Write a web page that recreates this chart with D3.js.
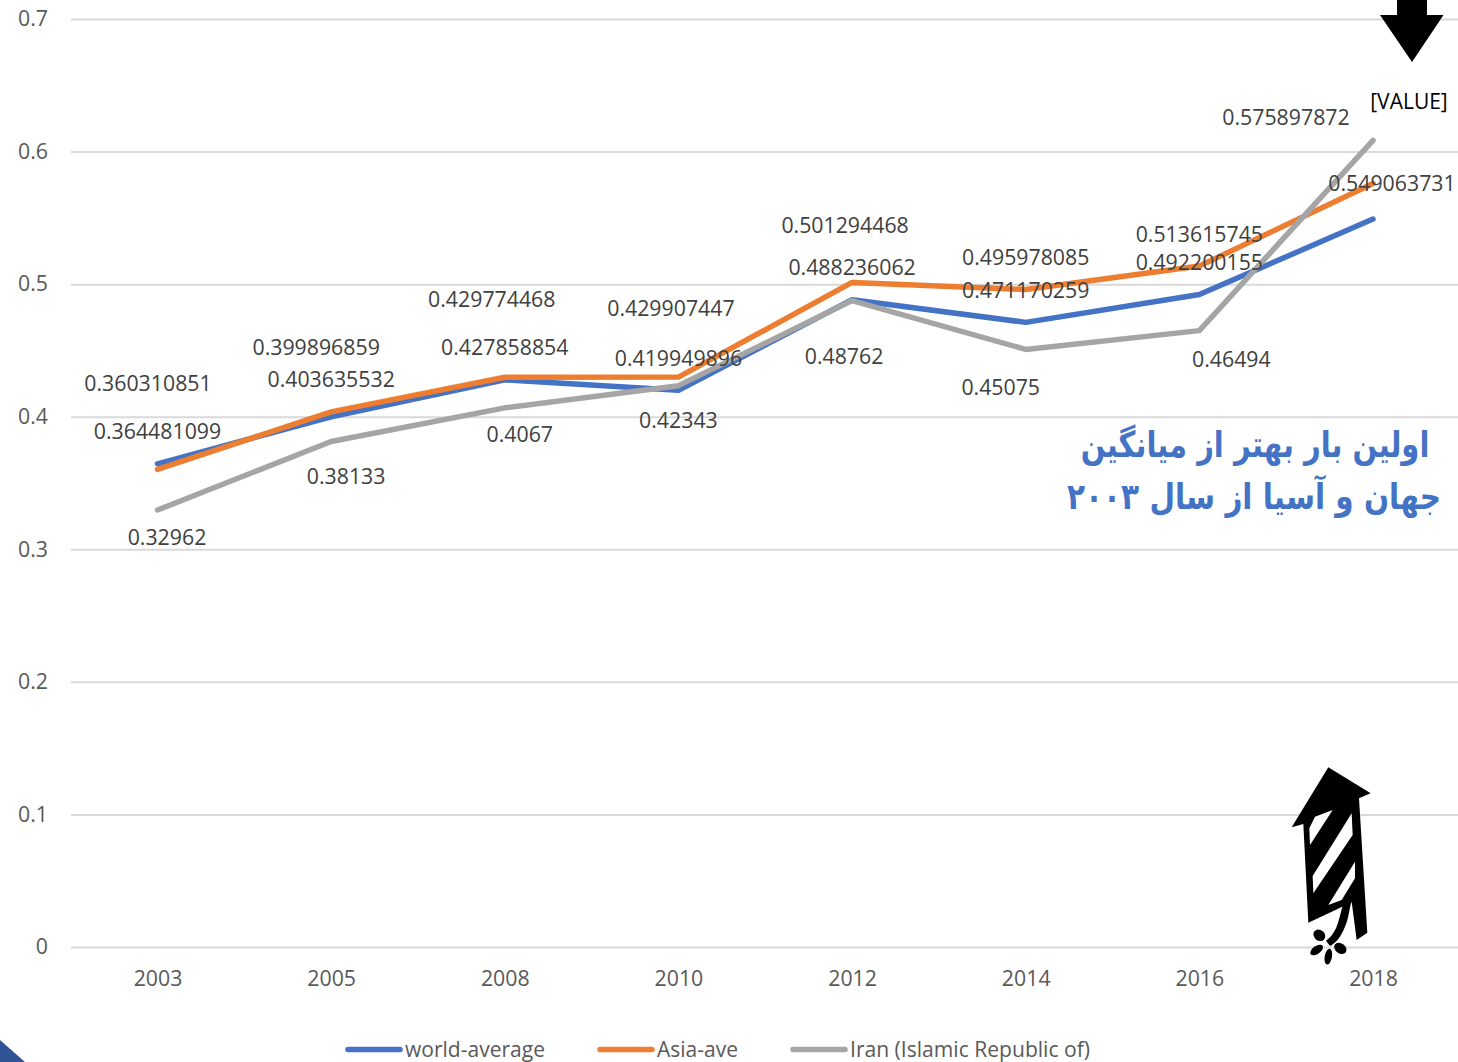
<!DOCTYPE html>
<html><head><meta charset="utf-8"><style>html,body{margin:0;padding:0;background:#fff;overflow:hidden}svg{display:block}</style>
<script src="https://cdnjs.cloudflare.com/ajax/libs/d3/7.8.5/d3.min.js"></script></head><body><svg id="c" width="1458" height="1062"></svg>
<script>
const years = ["2003","2005","2008","2010","2012","2014","2016","2018"];
const yTicks = [0,0.1,0.2,0.3,0.4,0.5,0.6,0.7];
const worldAverage = [0.364481099,0.399896859,0.427858854,0.419949896,0.488236062,0.471170259,0.492200155,0.549063731];
const asiaAve = [0.360310851,0.403635532,0.429774468,0.429907447,0.501294468,0.495978085,0.513615745,0.575897872];
const iran = [0.32962,0.38133,0.4067,0.42343,0.48762,0.45075,0.46494,0.6085];
const iranLabels = ["0.32962","0.38133","0.4067","0.42343","0.48762","0.45075","0.46494","[VALUE]"];
// label offsets from each point (dx, dy of the text centre), px
const worldOffsets = [[0,-33],[-15,-70],[0,-33],[0,-33],[0,-33],[0,-33],[0,-33],[19,-37]];
const asiaOffsets = [[-9.5,-87],[0,-33],[-13,-79],[-7.5,-70],[-7,-58],[0,-33],[0,-33],[-87,-67]];
const iranOffsets = [[9.5,26],[15,34],[15,26],[0,34],[-8,55],[-25,37],[32,28],[36,-39]];
const legendNames = ["world-average","Asia-ave","Iran (Islamic Republic of)"];
const colors = ["#4472C4","#ED7D31","#A5A5A5"];
const note = ["اولین بار بهتر از میانگین","جهان و آسیا از سال ۲۰۰۳"];

const svg = d3.select("#c");
const font = "'Open Sans',sans-serif", grey = "#595959";
const x = d3.scalePoint().domain(years).range([157.5,1373]);
const y = d3.scaleLinear().domain([0,0.7]).range([947,19]);

const yAxis = svg.append("g").attr("transform","translate(71,0)")
  .call(d3.axisLeft(y).tickValues(yTicks).tickFormat(d=>d===0?"0":d3.format(".1f")(d)).tickSize(-1387).tickPadding(23));
yAxis.select(".domain").remove();
yAxis.selectAll("line").attr("stroke","#D9D9D9").attr("stroke-width",2);
yAxis.selectAll("text").attr("font-family",font).attr("font-size",21.3).attr("fill",grey);

const xAxis = svg.append("g").attr("transform","translate(0,947)")
  .call(d3.axisBottom(x).tickSize(0).tickPadding(24));
xAxis.select(".domain").remove();
xAxis.selectAll("text").attr("font-family",font).attr("font-size",21.3).attr("fill",grey);

const line = d3.line().x((d,i)=>x(years[i])).y(d=>y(d));
[worldAverage,asiaAve,iran].forEach((s,k)=>{
  svg.append("path").datum(s).attr("d",line).attr("fill","none").attr("stroke",colors[k])
    .attr("stroke-width",5.5).attr("stroke-linecap","round").attr("stroke-linejoin","round");
});

function labels(vals,texts,offs,isIran){
  svg.append("g").selectAll("text").data(vals).join("text")
    .attr("x",(d,i)=>x(years[i])+offs[i][0]).attr("y",(d,i)=>y(d)+offs[i][1])
    .attr("text-anchor","middle").attr("dominant-baseline","central")
    .attr("font-family",font).attr("font-size",(d,i)=>isIran&&i===7?21:21.3)
    .attr("fill",(d,i)=>isIran&&i===7?"#000":"#404040").text((d,i)=>texts[i]);
}
labels(worldAverage,worldAverage.map(String),worldOffsets,false);
labels(asiaAve,asiaAve.map(String),asiaOffsets,false);
labels(iran,iranLabels,iranOffsets,true);

// legend
const legendX = [346,598,791], legendW=[140,81,240];
legendNames.forEach((n,i)=>{
  svg.append("line").attr("x1",legendX[i]+2).attr("x2",legendX[i]+54).attr("y1",1049.5).attr("y2",1049.5)
    .attr("stroke",colors[i]).attr("stroke-width",5.5).attr("stroke-linecap","round");
  svg.append("text").attr("x",legendX[i]+59).attr("y",1057).attr("font-family",font).attr("font-size",21)
    .attr("fill",grey).attr("textLength",legendW[i]).attr("lengthAdjust","spacingAndGlyphs").text(n);
});

// annotation
const noteX = [1255,1254], noteY = [457,509], noteScale = [0.806,0.82];
svg.append("g").selectAll("text").data(note).join("text")
  .attr("transform",(d,i)=>`translate(${noteX[i]},${noteY[i]}) scale(${noteScale[i]},1)`)
  .attr("text-anchor","middle").attr("direction","rtl")
  .attr("font-family","'DejaVu Sans',sans-serif").attr("font-weight","bold").attr("font-size",36)
  .attr("fill","#4472C4").text(d=>d);

// arrow
svg.append("path").attr("d","M1397,0H1427V15H1443.5L1412,62L1380,15H1397Z").attr("fill","#000");
// rocket
const r = svg.append("g").attr("transform","translate(1260,750) scale(0.3333)");
r.append("path").attr("fill","#000").attr("d","M205,52L332,130L297,145L322,548L290,570L275,455C268,470 268,500 255,530C243,560 228,578 210,588L198,572C215,560 228,540 235,515C240,498 243,485 247,470L145,518L130,222L95,232Z");
r.append("path").attr("fill","#fff").attr("d","M165,200L218,180L150,285L148,235Z M275,190L278,255L160,430L158,378Z M285,335L285,385L245,450L205,465Z");
[[178,556,19,16,40],[170,600,22,12,-35],[205,620,11,24,10],[241,595,20,15,35]].forEach(e=>{
  r.append("ellipse").attr("cx",e[0]).attr("cy",e[1]).attr("rx",e[2]).attr("ry",e[3])
   .attr("transform",`rotate(${e[4]} ${e[0]} ${e[1]})`).attr("fill","#000");
});
// corner
svg.append("path").attr("d","M0,1040L25,1062H0Z").attr("fill","#2F5597");
</script></body></html>
